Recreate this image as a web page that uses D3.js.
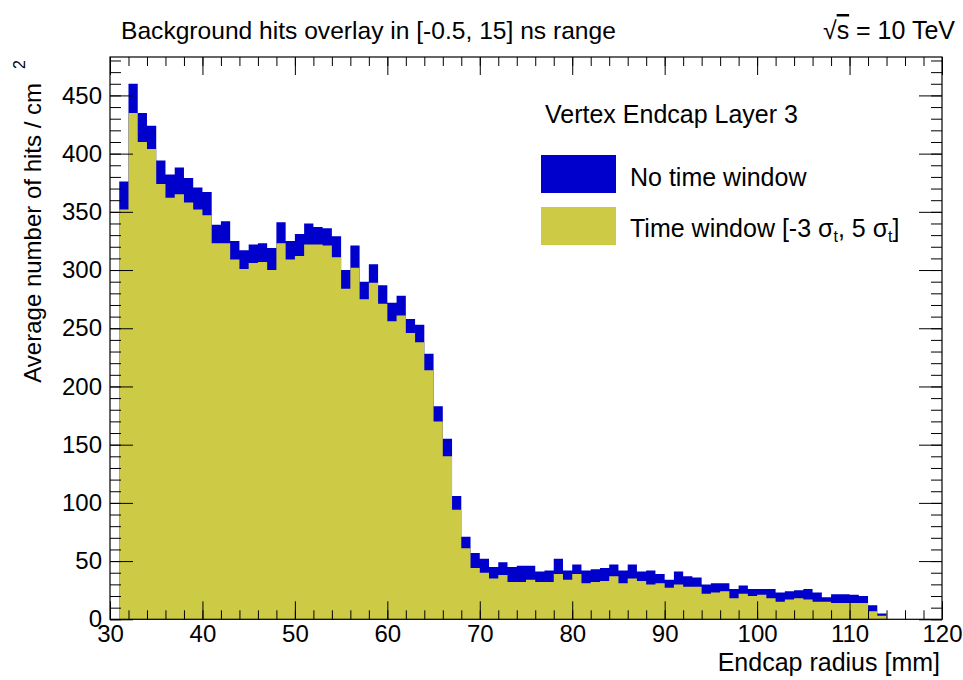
<!DOCTYPE html>
<html>
<head>
<meta charset="utf-8">
<script src="https://cdn.jsdelivr.net/npm/d3@7"></script>
<style>
body { margin: 0; background: #fff; }
svg text { font-family: "Liberation Sans", Arial, Helvetica, sans-serif; fill: #000; }
</style>
</head>
<body>
<svg id="chart" width="963" height="680"></svg>
<script>
// bins are 1 mm wide, first bin starts at 31 mm
const binStart = 31;
const noWindow = [
    376, 460, 435, 424, 394, 382, 388, 379, 371, 367,
    339, 342, 325, 317, 322, 323, 319, 341, 325, 331,
    340, 337, 336, 329, 300, 321, 290, 305, 287, 272,
    278, 258, 253, 228, 183, 155, 106, 71, 57, 52,
    45, 49, 45, 46, 46, 41, 42, 52, 42, 47,
    42, 43, 44, 47, 42, 47, 41, 42, 39, 34,
    41, 37, 36, 30, 31, 31, 26, 29, 26, 26,
    26, 23, 24, 25, 26, 23, 19, 21.5, 21.5, 21,
    20, 12, 5
];
const timeWindow = [
    352, 435, 410, 404, 374, 362, 365, 358, 352, 347,
    323, 323, 309, 301, 306, 307, 300, 323, 309, 312,
    322, 322, 321, 311, 284, 302, 275, 289, 271, 256,
    261, 246, 238, 214, 170, 140, 94, 61, 44, 40,
    35, 38, 32, 32, 34, 32, 32, 39, 34, 39,
    31, 32, 33, 37, 31, 35, 33, 30, 31, 27,
    30, 28, 28, 22, 23, 24, 18, 22, 20, 21,
    18, 15, 17, 18, 17, 15, 15, 14, 14, 14,
    14, 7, 3
];
const xMajor = [30, 40, 50, 60, 70, 80, 90, 100, 110, 120];
const xMinor = d3.range(30, 121, 2);
const yMajor = [0, 50, 100, 150, 200, 250, 300, 350, 400, 450];
const yMinor = d3.range(0, 481, 10);

const colBlue = '#0000cc';
const colYellow = '#cdcb45';

const svg = d3.select('#chart');
const x = d3.scaleLinear().domain([30, 120]).range([110, 942]);
const y = d3.scaleLinear().domain([0, 483]).range([619.3, 57]);

function toSteps(values) {
    const pts = values.map((v, i) => ({x: binStart + i, v: v}));
    pts.push({x: binStart + values.length, v: values[values.length - 1]});
    return pts;
}

const area = d3.area()
    .curve(d3.curveStepAfter)
    .x(d => x(d.x))
    .y0(y(0))
    .y1(d => y(d.v));

svg.append('path').datum(toSteps(noWindow)).attr('d', area).attr('fill', colBlue);
svg.append('path').datum(toSteps(timeWindow)).attr('d', area).attr('fill', colYellow);

// axes, ROOT style: ticks inside the frame on all four sides
function clean(g) {
    g.select('.domain').remove();
    g.selectAll('.tick line').attr('stroke', '#000').attr('stroke-width', 1);
    g.selectAll('.tick text').style('font-size', '24px').attr('fill', '#000');
}

svg.append('g').attr('transform', `translate(0,${y(0)})`)
    .call(d3.axisBottom(x).tickValues(xMinor).tickSize(-9).tickFormat(''))
    .call(clean);
svg.append('g').attr('transform', `translate(0,${y(0)})`)
    .call(d3.axisBottom(x).tickValues(xMajor).tickSize(-18).tickPadding(6).tickFormat(d3.format('d')))
    .call(clean);
svg.append('g').attr('transform', `translate(0,${y(483)})`)
    .call(d3.axisTop(x).tickValues(xMinor).tickSize(-9).tickFormat(''))
    .call(clean);
svg.append('g').attr('transform', `translate(0,${y(483)})`)
    .call(d3.axisTop(x).tickValues(xMajor).tickSize(-18).tickFormat(''))
    .call(clean);

svg.append('g').attr('transform', `translate(${x(30)},0)`)
    .call(d3.axisLeft(y).tickValues(yMinor).tickSize(-11).tickFormat(''))
    .call(clean);
svg.append('g').attr('transform', `translate(${x(30)},0)`)
    .call(d3.axisLeft(y).tickValues(yMajor).tickSize(-23).tickPadding(8).tickFormat(d3.format('d')))
    .call(clean);
svg.append('g').attr('transform', `translate(${x(120)},0)`)
    .call(d3.axisRight(y).tickValues(yMinor).tickSize(-11).tickFormat(''))
    .call(clean);
svg.append('g').attr('transform', `translate(${x(120)},0)`)
    .call(d3.axisRight(y).tickValues(yMajor).tickSize(-23).tickFormat(''))
    .call(clean);

svg.append('rect')
    .attr('x', x(30)).attr('y', y(483))
    .attr('width', x(120) - x(30)).attr('height', y(0) - y(483))
    .attr('fill', 'none').attr('stroke', '#000').attr('stroke-width', 1.2);

// titles
svg.append('text').attr('x', 121).attr('y', 39).style('font-size', '24.6px')
    .text('Background hits overlay in [-0.5, 15] ns range');

const sq = svg.append('text').attr('x', 955).attr('y', 39).attr('text-anchor', 'end').style('font-size', '25px');
sq.append('tspan').text('√');
sq.append('tspan').style('text-decoration', 'overline').text('s');
sq.append('tspan').text(' = 10 TeV');

svg.append('text').attr('x', 940).attr('y', 671).attr('text-anchor', 'end').style('font-size', '25px')
    .text('Endcap radius [mm]');

svg.append('text').attr('transform', 'translate(41,83) rotate(-90)').attr('text-anchor', 'end')
    .style('font-size', '24px').text('Average number of hits / cm');
svg.append('text').attr('transform', 'translate(25,69) rotate(-90)')
    .style('font-size', '16px').text('2');

// legend
svg.append('text').attr('x', 545).attr('y', 123).style('font-size', '25px').text('Vertex Endcap Layer 3');

const legend = [
    {color: colBlue, y: 155},
    {color: colYellow, y: 207},
];
legend.forEach(d => {
    svg.append('rect').attr('x', 541).attr('y', d.y).attr('width', 75).attr('height', 38)
        .attr('fill', d.color);
});
svg.append('text').attr('x', 630).attr('y', 186).style('font-size', '25px').text('No time window');
const tw = svg.append('text').attr('x', 630).attr('y', 237).style('font-size', '25px');
tw.append('tspan').text('Time window [-3 σ');
tw.append('tspan').attr('dy', 5).style('font-size', '16px').text('t');
tw.append('tspan').attr('dy', -5).text(', 5 σ');
tw.append('tspan').attr('dy', 5).style('font-size', '16px').text('t');
tw.append('tspan').attr('dy', -5).text(']');
</script>
</body>
</html>
